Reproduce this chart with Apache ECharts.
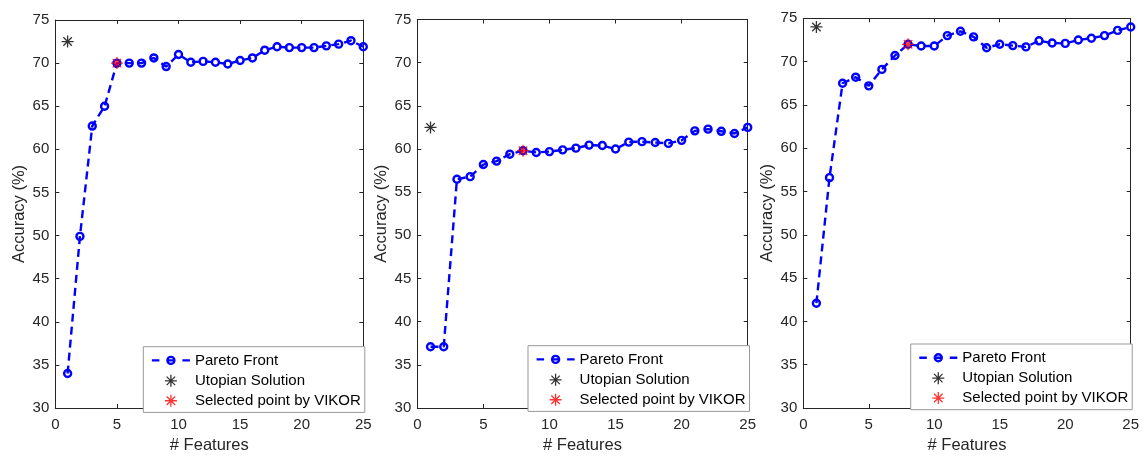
<!DOCTYPE html>
<html>
<head>
<meta charset="utf-8">
<script src="https://cdn.jsdelivr.net/npm/echarts@6/dist/echarts.min.js"></script>
<style>
  html, body { margin: 0; padding: 0; background: #fff; }
  #chart { width: 1144px; height: 459px; }
</style>
</head>
<body>
<div id="chart"></div>
<script>
// Number of selected features on the x axis
const featureCounts = [1, 2, 3, 4, 5, 6, 7, 8, 9, 10, 11, 12, 13, 14, 15, 16, 17, 18, 19, 20, 21, 22, 23, 24, 25];

// Pareto front accuracy (%) for each of the three experiments
const accuracyA = [34.0, 49.9, 62.7, 65.0, 70.0, 70.0, 70.0, 70.6, 69.6, 71.0, 70.1, 70.2, 70.1, 69.9, 70.3,
                   70.6, 71.5, 71.9, 71.8, 71.8, 71.8, 72.0, 72.2, 72.6, 71.9];
const accuracyB = [37.1, 37.1, 56.5, 56.8, 58.2, 58.6, 59.4, 59.8, 59.6, 59.7, 59.9, 60.1, 60.45, 60.4, 60.0,
                   60.8, 60.85, 60.75, 60.65, 61.0, 62.1, 62.3, 62.05, 61.8, 62.5];
const accuracyC = [42.1, 56.6, 67.5, 68.2, 67.2, 69.1, 70.7, 72.0, 71.8, 71.8, 73.0, 73.5, 72.85, 71.6, 72.0,
                   71.85, 71.7, 72.4, 72.15, 72.1, 72.5, 72.7, 73.0, 73.6, 74.0];

// Utopian solution [features, accuracy] per experiment
const utopianA = [1, 72.5];
const utopianB = [1, 62.5];
const utopianC = [1, 74.0];

// Point chosen by VIKOR [features, accuracy] per experiment
const vikorA = [5, 70.0];
const vikorB = [8, 59.8];
const vikorC = [8, 72.0];

// Axis ranges and tick labels
const xTicks = [0, 5, 10, 15, 20, 25];
const yTicks = [30, 35, 40, 45, 50, 55, 60, 65, 70, 75];

const seriesNames = ['Pareto Front', 'Utopian Solution', 'Selected point by VIKOR'];
const xName = '# Features';
const yName = 'Accuracy (%)';

const FONT = "'Liberation Sans', Arial, Helvetica, sans-serif";
const AXIS_COLOR = '#262626';
const BLUE = '#0000ff';
const LINE_W = 2.4;

// Eight-spoke asterisk; the extra move points pad the symbol box
const ASTERISK = 'path://M-7,-7M7,7M0,-6L0,6M-6,0L6,0M-4.24,-4.24L4.24,4.24M-4.24,4.24L4.24,-4.24';
// Dash - circle - dash legend glyph for the Pareto line
const PARETO_ICON = 'path://M0,0M38,14M0,7L7.5,7M30.5,7L38,7M15.5,7A3.5,3.5 0 1 1 22.5,7A3.5,3.5 0 1 1 15.5,7M15.5,7L22.5,7';

const panels = [
  { acc: accuracyA, utopian: utopianA, vikor: vikorA,
    grid: { left: 55.3, top: 20, width: 308, height: 393.3 }, legend: { left: 143.3, top: 346.7 } },
  { acc: accuracyB, utopian: utopianB, vikor: vikorB,
    grid: { left: 417.3, top: 19.5, width: 330.4, height: 392.5 }, legend: { left: 528, top: 345.7 } },
  { acc: accuracyC, utopian: utopianC, vikor: vikorC,
    grid: { left: 803.3, top: 18.3, width: 327.4, height: 391.7 }, legend: { left: 910.7, top: 344 } }
];

const xMin = xTicks[0], xMax = xTicks[xTicks.length - 1], xStep = xTicks[1] - xTicks[0];
const yMin = yTicks[0], yMax = yTicks[yTicks.length - 1], yStep = yTicks[1] - yTicks[0];

const option = {
  animation: false,
  backgroundColor: '#ffffff',
  textStyle: { fontFamily: FONT },
  grid: [], xAxis: [], yAxis: [], series: [], legend: []
};

function baseAxis(extra) {
  return Object.assign({
    type: 'value',
    axisLine: { show: true, onZero: false, lineStyle: { color: AXIS_COLOR, width: 1 } },
    axisTick: { show: true, inside: true, length: 4, lineStyle: { color: AXIS_COLOR, width: 1 } },
    splitLine: { show: false },
    axisLabel: { show: false }
  }, extra);
}

panels.forEach((p, i) => {
  option.grid.push(Object.assign({ containLabel: false }, p.grid));

  const xRange = { min: xMin, max: xMax, interval: xStep };
  const yRange = { min: yMin, max: yMax, interval: yStep };

  // bottom and top x axes (top one only closes the box)
  option.xAxis.push(baseAxis(Object.assign({
    gridIndex: i, position: 'bottom',
    name: xName, nameLocation: 'middle', nameGap: 29,
    nameTextStyle: { color: AXIS_COLOR, fontSize: 16.5, fontFamily: FONT },
    axisLabel: { show: true, color: AXIS_COLOR, fontSize: 15, fontFamily: FONT, margin: 9 }
  }, xRange)));
  option.xAxis.push(baseAxis(Object.assign({ gridIndex: i, position: 'top' }, xRange)));

  // left and right y axes
  option.yAxis.push(baseAxis(Object.assign({
    gridIndex: i, position: 'left',
    name: yName, nameLocation: 'middle', nameGap: 27,
    nameTextStyle: { color: AXIS_COLOR, fontSize: 16.5, fontFamily: FONT },
    axisLabel: { show: true, color: AXIS_COLOR, fontSize: 15, fontFamily: FONT, margin: 6 }
  }, yRange)));
  option.yAxis.push(baseAxis(Object.assign({ gridIndex: i, position: 'right' }, yRange)));

  const xIdx = i * 2, yIdx = i * 2;

  option.series.push({
    name: seriesNames[0], type: 'line',
    xAxisIndex: xIdx, yAxisIndex: yIdx,
    data: featureCounts.map((f, k) => [f, p.acc[k]]),
    symbol: 'circle', symbolSize: 7, showSymbol: true,
    lineStyle: { color: BLUE, width: LINE_W, type: [8, 5] },
    itemStyle: { color: 'rgba(0,0,0,0)', borderColor: BLUE, borderWidth: LINE_W },
    z: 2, silent: true
  });
  option.series.push({
    name: seriesNames[1], type: 'scatter',
    xAxisIndex: xIdx, yAxisIndex: yIdx,
    data: [p.utopian],
    symbol: ASTERISK, symbolSize: 14,
    itemStyle: { color: 'rgba(0,0,0,0)', borderColor: '#000000', borderWidth: 1.3 },
    z: 3, silent: true
  });
  option.series.push({
    name: seriesNames[2], type: 'scatter',
    xAxisIndex: xIdx, yAxisIndex: yIdx,
    data: [p.vikor],
    symbol: ASTERISK, symbolSize: 14,
    itemStyle: { color: 'rgba(0,0,0,0)', borderColor: '#ff0000', borderWidth: 1.3 },
    z: 4, silent: true
  });

  option.legend.push({
    left: p.legend.left, top: p.legend.top,
    orient: 'vertical',
    selectedMode: false,
    itemWidth: 38, itemHeight: 14, itemGap: 4.6,
    padding: [5.5, 4, 4, 7.4],
    backgroundColor: '#ffffff',
    borderColor: '#999999', borderWidth: 1, borderRadius: 0,
    textStyle: { color: '#000000', fontSize: 15, fontFamily: FONT },
    data: [
      { name: seriesNames[0], icon: PARETO_ICON,
        itemStyle: { color: 'rgba(0,0,0,0)', borderColor: BLUE, borderWidth: LINE_W } },
      { name: seriesNames[1], icon: ASTERISK,
        itemStyle: { color: 'rgba(0,0,0,0)', borderColor: '#000000', borderWidth: 1.3 } },
      { name: seriesNames[2], icon: ASTERISK,
        itemStyle: { color: 'rgba(0,0,0,0)', borderColor: '#ff0000', borderWidth: 1.3 } }
    ]
  });
});

const chart = echarts.init(document.getElementById('chart'), null, { renderer: 'canvas' });
chart.setOption(option);
</script>
</body>
</html>
